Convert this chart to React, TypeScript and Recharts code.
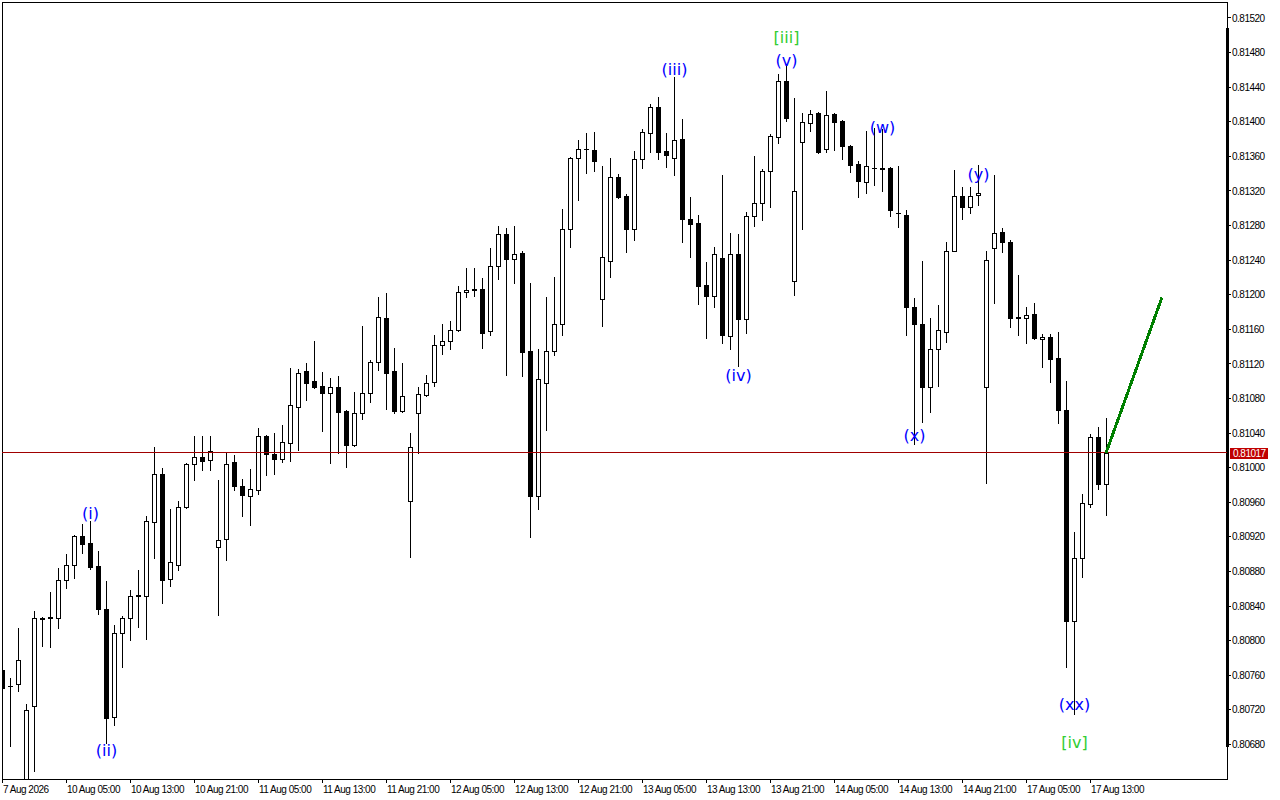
import React from "react";
import {
  ComposedChart,
  Bar,
  Line,
  Scatter,
  XAxis,
  YAxis,
  ReferenceLine,
  ReferenceArea,
} from "recharts";

// H1 bars, 7 Aug 21:00 .. 17 Aug 18:00
const open = [
  0.80766, 0.80748, 0.8075, 0.80622, 0.80724, 0.80826, 0.80826, 0.80826, 0.8087, 0.80887,
  0.80921, 0.80913, 0.80886, 0.80837, 0.80712, 0.80809, 0.80826, 0.80853, 0.80852, 0.80937,
  0.80993, 0.80871, 0.80888, 0.80954, 0.81004, 0.81012, 0.81009, 0.80908, 0.80917, 0.81006,
  0.80979, 0.80967, 0.80974, 0.81037, 0.81016, 0.8101, 0.81029, 0.8107, 0.81112, 0.811,
  0.81095, 0.81086, 0.81093, 0.81065, 0.81026, 0.81063, 0.81086, 0.81122, 0.81173, 0.81112,
  0.81065, 0.80961, 0.81063, 0.81084, 0.81099, 0.81142, 0.81147, 0.81159, 0.81203, 0.81207,
  0.81207, 0.81158, 0.81233, 0.8127, 0.81241, 0.81248, 0.81135, 0.80967, 0.81098, 0.81135,
  0.81166, 0.81276, 0.81358, 0.81369, 0.81367, 0.81195, 0.81239, 0.81336, 0.81314, 0.81276,
  0.81357, 0.81387, 0.81417, 0.81366, 0.81358, 0.8138, 0.81288, 0.81283, 0.81211, 0.81198,
  0.81242, 0.81152, 0.81247, 0.81172, 0.81291, 0.81306, 0.81343, 0.81382, 0.81447, 0.81216,
  0.81377, 0.81399, 0.8141, 0.81368, 0.81409, 0.81401, 0.81372, 0.81351, 0.8133, 0.81347,
  0.81346, 0.81346, 0.81295, 0.81292, 0.81186, 0.81166, 0.81093, 0.81137, 0.81157, 0.81251,
  0.81314, 0.81301, 0.81315, 0.81093, 0.81254, 0.81272, 0.81261, 0.81174, 0.81173, 0.81178,
  0.81149, 0.81151, 0.81127, 0.81067, 0.80823, 0.80895, 0.80958, 0.81036, 0.80981,
];
const high = [
  0.80769, 0.80757, 0.80815, 0.80727, 0.80834, 0.80827, 0.80856, 0.80884, 0.809, 0.80922,
  0.80935, 0.80938, 0.80904, 0.80869, 0.80818, 0.80828, 0.80858, 0.80882, 0.80944, 0.81024,
  0.81, 0.80952, 0.80962, 0.81005, 0.81037, 0.81037, 0.81037, 0.80986, 0.81017, 0.81015,
  0.80987, 0.80998, 0.81046, 0.81038, 0.8104, 0.81049, 0.81115, 0.81114, 0.81121, 0.81147,
  0.81111, 0.81104, 0.81106, 0.81067, 0.81088, 0.81164, 0.81124, 0.81197, 0.81202, 0.81138,
  0.81121, 0.8104, 0.81093, 0.81107, 0.81154, 0.81166, 0.8117, 0.8121, 0.81231, 0.81231,
  0.81219, 0.81254, 0.8128, 0.81277, 0.8128, 0.8125, 0.81214, 0.81137, 0.81197, 0.81221,
  0.81299, 0.81359, 0.81379, 0.81387, 0.81388, 0.81349, 0.81358, 0.8134, 0.81317, 0.81366,
  0.81392, 0.8142, 0.81429, 0.81387, 0.81452, 0.81403, 0.81313, 0.81292, 0.81238, 0.81255,
  0.81338, 0.81271, 0.8127, 0.81296, 0.8136, 0.81345, 0.81386, 0.81455, 0.81464, 0.81427,
  0.8141, 0.81414, 0.81411, 0.81436, 0.8141, 0.81402, 0.81373, 0.81355, 0.81389, 0.81393,
  0.81392, 0.81348, 0.81349, 0.81298, 0.81196, 0.81239, 0.81173, 0.81188, 0.81261, 0.81344,
  0.81324, 0.81325, 0.8135, 0.81251, 0.81338, 0.81277, 0.81263, 0.81223, 0.81186, 0.8119,
  0.81155, 0.81155, 0.81157, 0.811, 0.80926, 0.8097, 0.81039, 0.81047, 0.81057,
];
const low = [
  0.80743, 0.80678, 0.80742, 0.80604, 0.80649, 0.80794, 0.80793, 0.80815, 0.80861, 0.80872,
  0.80901, 0.80883, 0.80831, 0.80682, 0.80703, 0.80769, 0.80801, 0.80816, 0.80802, 0.80896,
  0.80843, 0.80863, 0.80882, 0.80953, 0.80986, 0.80997, 0.80997, 0.8083, 0.80893, 0.80974,
  0.80944, 0.80934, 0.80969, 0.80992, 0.80993, 0.81006, 0.81008, 0.8102, 0.81078, 0.81092,
  0.81042, 0.81005, 0.81017, 0.81001, 0.81025, 0.81056, 0.81076, 0.81113, 0.81068, 0.81063,
  0.81064, 0.80897, 0.81017, 0.81083, 0.81095, 0.81131, 0.81137, 0.81158, 0.81197, 0.81199,
  0.81138, 0.81154, 0.81218, 0.81107, 0.81214, 0.81106, 0.8092, 0.80952, 0.81043, 0.8113,
  0.81153, 0.81255, 0.81309, 0.81341, 0.81343, 0.81164, 0.8122, 0.81312, 0.81249, 0.81263,
  0.81347, 0.81365, 0.81357, 0.81348, 0.81338, 0.81261, 0.81244, 0.81189, 0.8115, 0.81186,
  0.81144, 0.81137, 0.81118, 0.81156, 0.8128, 0.81286, 0.81302, 0.81376, 0.81401, 0.812,
  0.81276, 0.81389, 0.81364, 0.81365, 0.81367, 0.81357, 0.81342, 0.81313, 0.81318, 0.81327,
  0.8132, 0.81291, 0.81278, 0.81154, 0.81027, 0.81053, 0.81064, 0.81095, 0.81145, 0.8125,
  0.81288, 0.81294, 0.81304, 0.80982, 0.81191, 0.81249, 0.81163, 0.81154, 0.81144, 0.81149,
  0.81116, 0.81099, 0.81052, 0.8077, 0.80715, 0.80874, 0.80955, 0.80975, 0.80945,
];
const close = [
  0.80745, 0.80747, 0.80778, 0.8072, 0.80826, 0.80825, 0.80827, 0.8087, 0.80888, 0.80921,
  0.80912, 0.80885, 0.80837, 0.80711, 0.80809, 0.80826, 0.80852, 0.80852, 0.80938, 0.80993,
  0.8087, 0.80891, 0.80955, 0.81004, 0.81012, 0.81008, 0.81019, 0.80916, 0.81004, 0.80979,
  0.80968, 0.80975, 0.81037, 0.81016, 0.8101, 0.8103, 0.81072, 0.8111, 0.81098, 0.81093,
  0.81086, 0.81093, 0.81064, 0.81026, 0.81063, 0.81086, 0.81122, 0.81174, 0.8111, 0.81065,
  0.81083, 0.81024, 0.81085, 0.81098, 0.81142, 0.81147, 0.81159, 0.81203, 0.81206, 0.81206,
  0.81156, 0.81233, 0.8127, 0.81241, 0.81247, 0.81134, 0.80967, 0.81102, 0.81135, 0.81166,
  0.81276, 0.81358, 0.81368, 0.81368, 0.81355, 0.81244, 0.81336, 0.81313, 0.81276, 0.81357,
  0.81388, 0.81417, 0.81365, 0.81362, 0.81379, 0.81288, 0.81282, 0.8121, 0.81199, 0.81247,
  0.81153, 0.81247, 0.81172, 0.81291, 0.81306, 0.81343, 0.81383, 0.81447, 0.81404, 0.8132,
  0.814, 0.81409, 0.81365, 0.81408, 0.814, 0.81372, 0.8135, 0.81331, 0.81349, 0.81346,
  0.81345, 0.81298, 0.81294, 0.81186, 0.81166, 0.81093, 0.81137, 0.81159, 0.81251, 0.81314,
  0.81301, 0.81314, 0.81318, 0.8124, 0.81271, 0.81261, 0.81173, 0.81173, 0.81177, 0.8115,
  0.81151, 0.81126, 0.81067, 0.80823, 0.80896, 0.80959, 0.81036, 0.80981, 0.81017,
];

const timeTicks = [0, 8, 16, 24, 32, 40, 48, 56, 64, 72, 80, 88, 96, 104, 112, 120, 128, 136];
const timeLabels = [
  "7 Aug 2026", "10 Aug 05:00", "10 Aug 13:00", "10 Aug 21:00", "11 Aug 05:00", "11 Aug 13:00",
  "11 Aug 21:00", "12 Aug 05:00", "12 Aug 13:00", "12 Aug 21:00", "13 Aug 05:00", "13 Aug 13:00",
  "13 Aug 21:00", "14 Aug 05:00", "14 Aug 13:00", "14 Aug 21:00", "17 Aug 05:00", "17 Aug 13:00",
];
const priceTicks = [
  0.8068, 0.8072, 0.8076, 0.808, 0.8084, 0.8088, 0.8092, 0.8096, 0.81, 0.8104, 0.8108,
  0.8112, 0.8116, 0.812, 0.8124, 0.8128, 0.8132, 0.8136, 0.814, 0.8144, 0.8148, 0.8152,
];

// elliott wave marks
const waveText = ["(i)", "(ii)", "(iii)", "(iv)", "(v)", "[iii]", "(w)", "(x)", "(y)", "(xx)", "[iv]"];
const waveBar = [11, 13, 84, 92, 98, 98, 110, 114, 122, 134, 134];
const wavePrice = [0.80947, 0.80673, 0.8146, 0.81107, 0.81471, 0.81497, 0.81393, 0.81037, 0.81339, 0.80726, 0.80682];
const waveDegree = ["minute", "minute", "minute", "minute", "minute", "minor", "minute", "minute", "minute", "minute", "minor"];

// projected move
const forecastBar = [138, 145];
const forecastPrice = [0.81017, 0.81197];

const Y_MIN = 0.8064;
const Y_MAX = 0.815385;
const X_MAX = 153.125;

const candles = open.map((o, i) => ({ i, open: o, high: high[i], low: low[i], close: close[i] }));
const waves = waveText.map((text, k) => ({ i: waveBar[k], price: wavePrice[k], text, degree: waveDegree[k] }));
const forecast = forecastBar.map((i, k) => ({ i, price: forecastPrice[k] }));
const lastPrice = close[close.length - 1];

const AXIS_FONT = "'Liberation Sans', Arial, sans-serif";
const waveColor: Record<string, string> = { minute: "#0000ff", minor: "#32cd32" };

function CandleShape(props: any) {
  const { x, y, width, height, payload } = props;
  if (!payload || height == null) return null;
  const { open: o, close: c, high: h, low: l } = payload;
  const top = Math.min(y, y + height);
  const k = Math.abs(height) / (h - l);
  const toY = (v: number) => Math.round(top + (h - v) * k);
  const cx = Math.round(x + width / 2);
  const wTop = toY(h);
  const wBot = toY(l);
  const bTop = toY(Math.max(o, c));
  const bBot = Math.max(toY(Math.min(o, c)), bTop);
  const bull = c > o;
  return (
    <g>
      <rect x={cx} y={wTop} width={1} height={wBot - wTop + 1} fill="#000" />
      <rect x={cx - 2} y={bTop} width={5} height={bBot - bTop + 1} fill="#000" />
      {bull && bBot - bTop >= 2 && (
        <rect x={cx - 1} y={bTop + 1} width={3} height={bBot - bTop - 1} fill="#fff" />
      )}
    </g>
  );
}

function WaveMark(props: any) {
  const { cx, cy, payload } = props;
  if (!payload) return null;
  return (
    <text
      x={cx + 0.5}
      y={cy}
      textAnchor="middle"
      dominantBaseline="central"
      fill={waveColor[payload.degree]}
      fontSize={16}
      fontFamily="'DejaVu Sans', Verdana, sans-serif"
    >
      {payload.text}
    </text>
  );
}

function TimeTick({ x, y, payload }: any) {
  const label = timeLabels[timeTicks.indexOf(payload.value)];
  return (
    <text x={x + 1} y={y} dy={8.5} fill="#000" fontSize={10} letterSpacing={-0.5} fontFamily={AXIS_FONT}>
      {label}
    </text>
  );
}

function PriceTick({ x, y, payload }: any) {
  return (
    <text x={x} y={y} dy={3.6} fill="#000" fontSize={10} letterSpacing={-0.5} fontFamily={AXIS_FONT}>
      {Number(payload.value).toFixed(5)}
    </text>
  );
}

function BidTag({ viewBox }: any) {
  if (!viewBox) return null;
  const x = viewBox.x + viewBox.width + 3;
  const y = viewBox.y;
  return (
    <g>
      <rect x={x} y={y - 5} width={38} height={11} fill="#c00000" />
      <text x={x + 3} y={y} dy={4} fill="#fff" fontSize={10} letterSpacing={-0.5} fontFamily={AXIS_FONT}>
        {lastPrice.toFixed(5)}
      </text>
    </g>
  );
}

export default function App() {
  return (
    <div className="mt" style={{ position: "absolute", left: 0, top: 0, width: 1280, height: 800, background: "#fff" }}>
      <style>{`.mt svg rect, .mt svg line, .mt svg path { shape-rendering: crispEdges; }`}</style>
      <ComposedChart width={1280} height={800} data={candles} margin={{ top: 2, right: 0, bottom: 0, left: 2 }}>
        <XAxis
          dataKey="i"
          type="number"
          domain={[0, X_MAX]}
          allowDataOverflow
          ticks={timeTicks}
          interval={0}
          height={21}
          axisLine={{ stroke: "#000" }}
          tickLine={{ stroke: "#000" }}
          tickSize={4}
          tickMargin={1}
          tick={(p: any) => <TimeTick {...p} />}
        />
        <YAxis
          orientation="right"
          type="number"
          domain={[Y_MIN, Y_MAX]}
          allowDataOverflow
          ticks={priceTicks}
          interval={0}
          width={53}
          axisLine={{ stroke: "#000" }}
          tickLine={{ stroke: "#000" }}
          tickSize={4}
          tickMargin={1}
          tick={(p: any) => <PriceTick {...p} />}
        />
        <ReferenceArea x1={0} x2={X_MAX} y1={Y_MIN} y2={Y_MAX} fill="none" fillOpacity={0} stroke="#000" strokeOpacity={1} />
        <ReferenceLine
          segment={[{ x: X_MAX, y: 0.81508 }, { x: X_MAX, y: 0.80677 }]}
          stroke="#000"
          strokeWidth={3}
        />
        <ReferenceLine y={lastPrice} stroke="#a00000" strokeWidth={1} label={<BidTag />} />
        <Scatter data={waves} dataKey="price" shape={<WaveMark />} isAnimationActive={false} />
        <Bar
          dataKey={(d: any) => [d.low, d.high]}
          barSize={5}
          shape={<CandleShape />}
          isAnimationActive={false}
        />
        <Line
          data={forecast}
          dataKey="price"
          stroke="#008000"
          strokeWidth={3}
          dot={false}
          activeDot={false}
          isAnimationActive={false}
        />
      </ComposedChart>
    </div>
  );
}
